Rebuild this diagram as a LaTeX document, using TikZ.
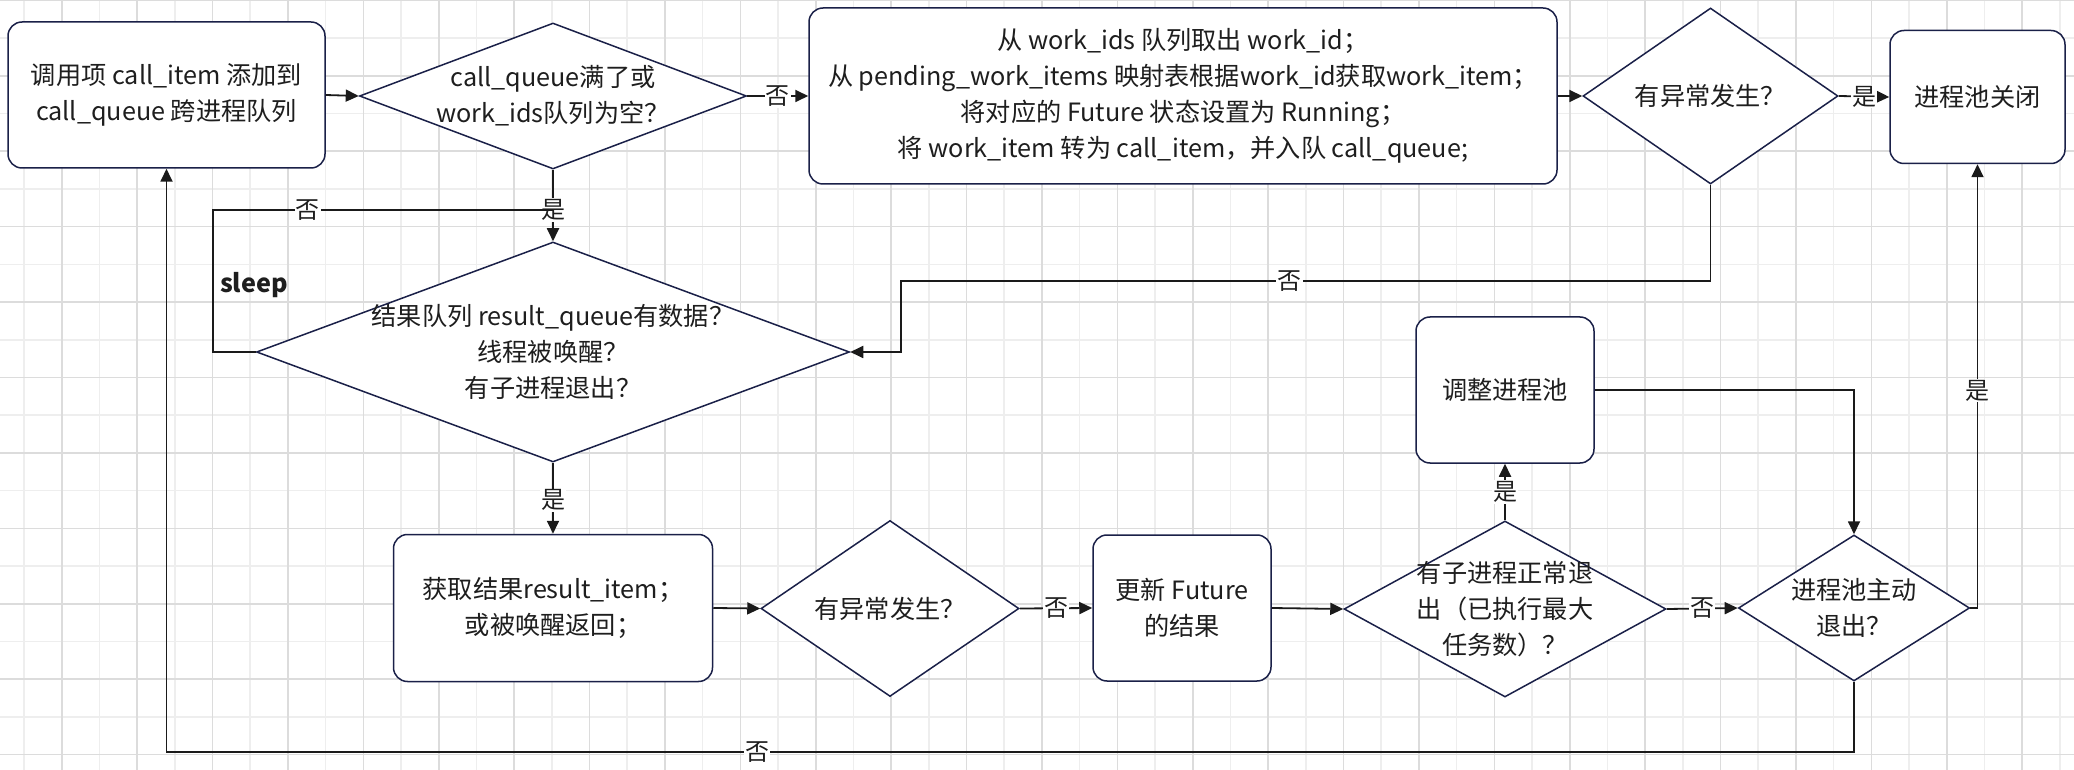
\documentclass[tikz,border=0pt]{standalone}
\usepackage{fontspec}
\setmainfont{Noto Sans CJK SC}
\usetikzlibrary{shapes.geometric, arrows.meta}
\definecolor{nodeline}{RGB}{26,32,72}
\definecolor{inkline}{RGB}{26,26,26}
\definecolor{txtgray}{RGB}{30,30,30}
\definecolor{gridlo}{RGB}{238,238,238}
\definecolor{gridhi}{RGB}{220,220,220}
\tikzset{
  txt/.style={align=center, text=txtgray, font=\fontsize{12.6}{18}\selectfont},
  process/.style={txt, draw=nodeline, line width=.75pt, fill=white, rounded corners=7pt, inner sep=0pt},
  decision/.style={diamond, draw=nodeline, line width=.75pt, fill=white, inner sep=0pt},
  flow/.style={draw=inkline, line width=.9pt, -{Triangle[length=6.5pt, width=6pt]}},
  link/.style={draw=inkline, line width=.9pt},
  yesno/.style={fill=white, text=txtgray, inner sep=.6pt, font=\fontsize{12}{14}\selectfont},
}
\begin{document}
\begin{tikzpicture}[x=1pt, y=-1pt]
\useasboundingbox (0,0) rectangle (1037,385);
\fill[white] (0,0) rectangle (1037,385);
% background grid
\foreach \gx in {12,49.7,...,1037} \draw[gridlo, line width=.8pt] (\gx,0) -- (\gx,385);
\foreach \gy in {19.1,56.8,...,385} \draw[gridlo, line width=.8pt] (0,\gy) -- (1037,\gy);
\foreach \gx in {30.85,68.55,...,1037} \draw[gridhi, line width=.8pt] (\gx,0) -- (\gx,385);
\foreach \gy in {0.25,37.95,...,385} \draw[gridhi, line width=.8pt] (0,\gy) -- (1037,\gy);

% top row
\node[process, minimum width=158.5pt, minimum height=73pt] (call) at (83.25,47.5) {调用项 call\_item 添加到\\call\_queue 跨进程队列};
\node[decision, minimum width=193.5pt, minimum height=73pt, label={[txt]center:call\_queue满了或\\work\_ids队列为空？}] (full) at (276.5,48) {};
\node[process, minimum width=374pt, minimum height=88pt] (fetch) at (591.5,48) {从 work\_ids 队列取出 work\_id；\\从 pending\_work\_items 映射表根据work\_id获取work\_item；\\将对应的 Future 状态设置为 Running；\\将 work\_item 转为 call\_item，并入队 call\_queue;};
\node[decision, minimum width=127.5pt, minimum height=88pt, label={[txt]center:有异常发生？}] (errtop) at (855.25,48) {};
\node[process, minimum width=87.5pt, minimum height=66.5pt] (close) at (988.75,48.5) {进程池关闭};

% middle
\node[decision, minimum width=296.5pt, minimum height=110pt, label={[txt]center:结果队列 result\_queue有数据？\\线程被唤醒？\\有子进程退出？}] (wait) at (276.5,176) {};
\node[txt, font=\fontsize{12.6}{18}\selectfont\bfseries] (sleep) at (127,142.5) {sleep};
\node[process, minimum width=89pt, minimum height=73pt] (adjust) at (752.5,195) {调整进程池};

% bottom row
\node[process, minimum width=159.5pt, minimum height=73.5pt] (result) at (276.5,304) {获取结果result\_item；\\或被唤醒返回；};
\node[decision, minimum width=129pt, minimum height=88pt, label={[txt]center:有异常发生？}] (errbot) at (445,304.25) {};
\node[process, minimum width=89pt, minimum height=73pt] (update) at (591,304) {更新 Future\\的结果};
\node[decision, minimum width=161pt, minimum height=88pt, label={[txt]center:有子进程正常退\\出（已执行最大\\任务数）？}] (maxtask) at (752.5,304.5) {};
\node[decision, minimum width=115.6pt, minimum height=73pt, label={[txt]center:进程池主动\\退出？}] (quit) at (927,304) {};

\coordinate (jmp) at (450.5,140.5);
\coordinate (slp) at (106.3,105);

% connectors
\draw[flow] (call.east) -- (full.west);
\draw[flow] (full.east) -- node[yesno]{否} (fetch.west);
\draw[flow] (fetch.east) -- (errtop.west);
\draw[flow] (errtop.east) -- node[yesno]{是} (close.west);
\draw[flow] (errtop.south) |- node[yesno, pos=.76]{否} (jmp) |- (wait.east);
\draw[flow] (full.south) -- node[yesno, pos=.56]{是} (wait.north);
\draw[link] (wait.west) -| (slp) -- node[yesno, pos=.28]{否} (slp -| full.south);
\draw[flow] (wait.south) -- node[yesno, pos=.53]{是} (result.north);
\draw[flow] (result.east) -- (errbot.west);
\draw[flow] (errbot.east) -- node[yesno]{否} (update.west);
\draw[flow] (update.east) -- (maxtask.west);
\draw[flow] (maxtask.north) -- node[yesno]{是} (adjust.south);
\draw[flow] (maxtask.east) -- node[yesno]{否} (quit.west);
\draw[flow] (adjust.east) -| (quit.north);
\draw[flow] (quit.east) -| node[yesno, pos=.745]{是} (close.south);
\draw[flow] (quit.south) -- ++(0,35) -| node[yesno, pos=.325]{否} (call.south);
\end{tikzpicture}
\end{document}
